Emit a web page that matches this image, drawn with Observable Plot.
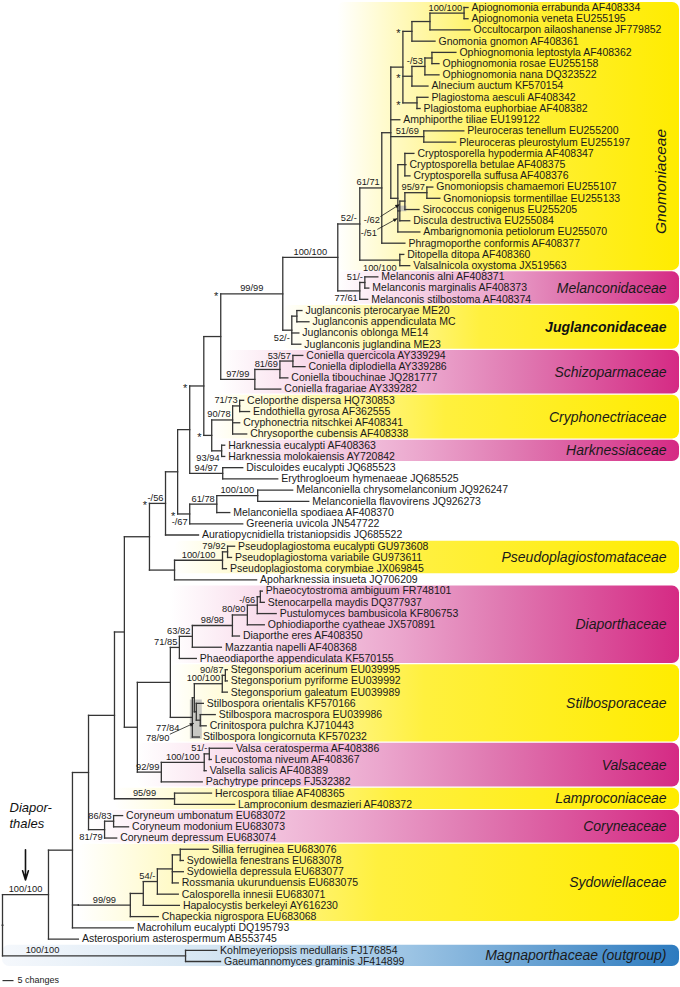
<!DOCTYPE html>
<html><head><meta charset="utf-8">
<script src="https://cdn.jsdelivr.net/npm/d3@7"></script>
<script src="https://cdn.jsdelivr.net/npm/@observablehq/plot@0.6"></script>
<style>
body{margin:0;background:#fff;}
#chart svg{display:block;}
</style></head><body><div id="chart"></div>
<script>
// ---------------- DATA ----------------
// Tree topology with branch lengths (changes); internal node ids carry the support labels
const newick = `(
 ((((((((((((((((((((((Apiognomonia_errabunda:1.8,Apiognomonia_veneta:1.8)Ap:15.5,Occultocarpon_ailaoshanense:18.2)Go:8.2,Gnomonia_gnomon:10.5)Gg:4.1,
 (((Ophiognomonia_leptostyla:10.9,Ophiognomonia_rosae:3.2)Olr:3.2,Ophiognomonia_nana:6.4)Oph:5.9,Alnecium_auctum:7.3)Goa:4.1,
 (Plagiostoma_aesculi:5.0,Plagiostoma_euphorbiae:1.4)Gp:6.4)G408:5.5,
 Amphiporthe_tiliae:4.1,
 (Pleuroceras_tenellum:18.2,Pleuroceras_pleurostylum:14.5)Pleur:15.0,
 ((Cryptosporella_hypodermia:4.1,Cryptosporella_betulae:0.5,Cryptosporella_suffusa:2.3)Crypto:3.2,
  (((Gnomoniopsis_chamaemori:2.7,Gnomoniopsis_tormentillae:5.9)Gn:10.0,Sirococcus_conigenus:6.4)Gs:2.3,Discula_destructiva:4.5)Gd:0.9,
  Ambarignomonia_petiolorum:10.0)CG:3.2)G396:4.1,
 Phragmoporthe_conformis:10.5)GA:10.0,
 (Ditopella_ditopa:1.8,Valsalnicola_oxystoma:4.5)DV:18.2)G0:10.0,
 ((Melanconis_alni:5.9,Melanconis_marginalis:1.8)Mel2:2.3,Melanconis_stilbostoma:3.6)Mel:10.0)N52:25.0,
 ((Juglanconis_pterocaryae:2.3,Juglanconis_appendiculata:5.5)Jp:2.3,Juglanconis_oblonga:3.2,Juglanconis_juglandina:4.1)J:4.1)N1:28.2,
 (((Coniella_quercicola:4.5,Coniella_diplodiella:5.5)C53:5.9,Coniella_tibouchinae:3.6)C81:11.4,Coniella_fragariae:11.8)C97:15.5)N2:7.7,
 (((Celoporthe_dispersa:1.8,Endothiella_gyrosa:4.5)CE:3.2,Cryphonectria_nitschkei:3.2,Chrysoporthe_cubensis:6.4)Cry:9.5,
  (Harknessia_eucalypti:1.4,Harknessia_molokaiensis:1.4)Hark:4.5)CH:3.6)P:6.4,
 (Disculoides_eucalypti:9.1,Erythrogloeum_hymenaeae:25.0)Dsc:15.0)Q:5.5,
 (((Melanconiella_chrysomelanconium:15.9,Melanconiella_flavovirens:23.2)M100:18.6,Melanconiella_spodiaea:5.9)M61:12.3,Greeneria_uvicola:24.1)MG:5.5)R:5.5,
 Auratiopycnidiella_tristaniopsidis:15.0)S:7.3,
 (((Pseudoplagiostoma_eucalypti:3.2,Pseudoplagiostoma_variabile:1.8)Ps2:2.3,Pseudoplagiostoma_corymbiae:1.8)Ps:21.8,Apoharknessia_insueta:37.3)U:11.4)T:11.4,
 ((((((((Phaeocytostroma_ambiguum:0.9,Stenocarpella_maydis:1.8)D5:1.4,Pustulomyces_bambusicola:8.6)D4:4.5,Ophiodiaporthe_cyatheae:7.7)D3:6.8,Diaporthe_eres:3.2)D2:18.2,Mazzantia_napelli:13.2)D1:5.9,Phaeodiaporthe_appendiculata:7.7)D0:4.1,
  ((((Stegonsporium_acerinum:0.9,Stegonsporium_pyriforme:0.9)Sap:1.4,Stegonsporium_galeatum:2.3)Steg:12.7,
    (Stilbospora_orientalis:3.2,(Stilbospora_macrospora:6.8,Crinitospora_pulchra:2.7)MC:1.8)SBb:0.9)SBa:0.9,
   Stilbospora_longicornuta:3.2)SB:10.0)X:15.0,
 (((Valsa_ceratosperma:10.5,Leucostoma_niveum:0.9)Va2:2.3,Valsella_salicis:0.9)Va1:19.5,Pachytrype_princeps:18.6)Vals:10.9)W:5.9)V:4.5,
 (Hercospora_tiliae:16.8,Lamproconium_desmazieri:27.3)Lamp:27.3)Y:11.8,
 ((Coryneum_umbonatum:4.1,Coryneum_modonium:6.8)Cu:4.1,Coryneum_depressum:5.5)Cor:7.3)Z:7.3,
 ((((((Sillia_ferruginea:12.7,Sydowiella_fenestrans:1.4)S180:3.6,Sydowiella_depressula:5.0,Rossmania_ukurunduensis:2.7)S172:6.8,Calosporella_innesii:9.5)S157:6.4,Hapalocystis_berkeleyi:16.4)S143:5.9,Chapeckia_nigrospora:12.7)Syd:23.6)C:2.7,
 Macrohilum_eucalypti:27.7)B:10.9,
 Asterosporium_asterospermum:13.6)IN:20.9,
 (Kohlmeyeriopsis_medullaris:14.1,Gaeumannomyces_graminis:15.9)OUT:83.2
)ROOT;`;

// Accession numbers / strain codes for each terminal
const taxa = [
["Apiognomonia_errabunda","AF408334"],["Apiognomonia_veneta","EU255195"],["Occultocarpon_ailaoshanense","JF779852"],
["Gnomonia_gnomon","AF408361"],["Ophiognomonia_leptostyla","AF408362"],["Ophiognomonia_rosae","EU255158"],
["Ophiognomonia_nana","DQ323522"],["Alnecium_auctum","KF570154"],["Plagiostoma_aesculi","AF408342"],
["Plagiostoma_euphorbiae","AF408382"],["Amphiporthe_tiliae","EU199122"],["Pleuroceras_tenellum","EU255200"],
["Pleuroceras_pleurostylum","EU255197"],["Cryptosporella_hypodermia","AF408347"],["Cryptosporella_betulae","AF408375"],
["Cryptosporella_suffusa","AF408376"],["Gnomoniopsis_chamaemori","EU255107"],["Gnomoniopsis_tormentillae","EU255133"],
["Sirococcus_conigenus","EU255205"],["Discula_destructiva","EU255084"],["Ambarignomonia_petiolorum","EU255070"],
["Phragmoporthe_conformis","AF408377"],["Ditopella_ditopa","AF408360"],["Valsalnicola_oxystoma","JX519563"],
["Melanconis_alni","AF408371"],["Melanconis_marginalis","AF408373"],["Melanconis_stilbostoma","AF408374"],
["Juglanconis_pterocaryae","ME20"],["Juglanconis_appendiculata","MC"],["Juglanconis_oblonga","ME14"],
["Juglanconis_juglandina","ME23"],["Coniella_quercicola","AY339294"],["Coniella_diplodiella","AY339286"],
["Coniella_tibouchinae","JQ281777"],["Coniella_fragariae","AY339282"],["Celoporthe_dispersa","HQ730853"],
["Endothiella_gyrosa","AF362555"],["Cryphonectria_nitschkei","AF408341"],["Chrysoporthe_cubensis","AF408338"],
["Harknessia_eucalypti","AF408363"],["Harknessia_molokaiensis","AY720842"],["Disculoides_eucalypti","JQ685523"],
["Erythrogloeum_hymenaeae","JQ685525"],["Melanconiella_chrysomelanconium","JQ926247"],["Melanconiella_flavovirens","JQ926273"],
["Melanconiella_spodiaea","AF408370"],["Greeneria_uvicola","JN547722"],["Auratiopycnidiella_tristaniopsidis","JQ685522"],
["Pseudoplagiostoma_eucalypti","GU973608"],["Pseudoplagiostoma_variabile","GU973611"],["Pseudoplagiostoma_corymbiae","JX069845"],
["Apoharknessia_insueta","JQ706209"],["Phaeocytostroma_ambiguum","FR748101"],["Stenocarpella_maydis","DQ377937"],
["Pustulomyces_bambusicola","KF806753"],["Ophiodiaporthe_cyatheae","JX570891"],["Diaporthe_eres","AF408350"],
["Mazzantia_napelli","AF408368"],["Phaeodiaporthe_appendiculata","KF570155"],["Stegonsporium_acerinum","EU039995"],
["Stegonsporium_pyriforme","EU039992"],["Stegonsporium_galeatum","EU039989"],["Stilbospora_orientalis","KF570166"],
["Stilbospora_macrospora","EU039986"],["Crinitospora_pulchra","KJ710443"],["Stilbospora_longicornuta","KF570232"],
["Valsa_ceratosperma","AF408386"],["Leucostoma_niveum","AF408367"],["Valsella_salicis","AF408389"],
["Pachytrype_princeps","FJ532382"],["Hercospora_tiliae","AF408365"],["Lamproconium_desmazieri","AF408372"],
["Coryneum_umbonatum","EU683072"],["Coryneum_modonium","EU683073"],["Coryneum_depressum","EU683074"],
["Sillia_ferruginea","EU683076"],["Sydowiella_fenestrans","EU683078"],["Sydowiella_depressula","EU683077"],
["Rossmania_ukurunduensis","EU683075"],["Calosporella_innesii","EU683071"],["Hapalocystis_berkeleyi","AY616230"],
["Chapeckia_nigrospora","EU683068"],["Macrohilum_eucalypti","DQ195793"],["Asterosporium_asterospermum","AB553745"],
["Kohlmeyeriopsis_medullaris","FJ176854"],["Gaeumannomyces_graminis","JF414899"]
];
const italicAccessions = ["EU255133"];

// Support values (ML / MP bootstrap) per internal node, and where they sit
const supports = [
["Ap","100/100","above"],["Oph","-/53","above"],["Pleur","51/69","above"],["Gn","95/97","above"],
["Gs","-/62","arrow"],["Gd","-/51","arrow"],["GA","61/71","above"],["G0","52/-","above"],
["DV","100/100","below"],["N52","100/100","above"],["Mel2","51/-","above"],["Mel","77/61","below"],
["N1","99/99","above"],["J","52/-","below"],["C53","53/57","above"],["C81","81/69","above"],
["C97","97/99","above"],["CE","71/73","above"],["Cry","90/78","above"],["Hark","93/94","below"],
["Dsc","94/97","above"],["M100","100/100","above"],["M61","61/78","above"],["MG","-/67","below"],
["S","-/56","above"],["Ps2","79/92","above"],["Ps","100/100","above"],["D4","-/66","above"],
["D3","80/90","above"],["D2","98/98","above"],["D1","63/82","above"],["D0","71/85","above"],
["Sap","90/87","above"],["Steg","100/100","above"],["SBb","77/84","arrow"],["SBa","78/90","arrow"],
["Va2","51/-","above"],["Va1","100/100","above"],["Vals","92/99","above"],["Lamp","95/99","above"],
["Cu","86/83","above"],["Cor","81/79","below"],["S157","54/-","above"],["Syd","99/99","above"],
["IN","100/100","above"],["OUT","100/100","above"]
];
// Nodes marked with an asterisk
const starNodes = ["Gg","Goa","Gp","N1","P","CH","S","MG"];

// Families: [label, first terminal, last terminal, colour group]
const families = [
["Gnomoniaceae","Apiognomonia_errabunda","Valsalnicola_oxystoma","yellow"],
["Melanconidaceae","Melanconis_alni","Melanconis_stilbostoma","magenta"],
["Juglanconidaceae","Juglanconis_pterocaryae","Juglanconis_juglandina","yellow"],
["Schizoparmaceae","Coniella_quercicola","Coniella_fragariae","magenta"],
["Cryphonectriaceae","Celoporthe_dispersa","Chrysoporthe_cubensis","yellow"],
["Harknessiaceae","Harknessia_eucalypti","Harknessia_molokaiensis","magenta"],
["Pseudoplagiostomataceae","Pseudoplagiostoma_eucalypti","Pseudoplagiostoma_corymbiae","yellow"],
["Diaporthaceae","Phaeocytostroma_ambiguum","Phaeodiaporthe_appendiculata","magenta"],
["Stilbosporaceae","Stegonsporium_acerinum","Stilbospora_longicornuta","yellow"],
["Valsaceae","Valsa_ceratosperma","Pachytrype_princeps","magenta"],
["Lamproconiaceae","Hercospora_tiliae","Lamproconium_desmazieri","yellow"],
["Coryneaceae","Coryneum_umbonatum","Coryneum_depressum","magenta"],
["Sydowiellaceae","Sillia_ferruginea","Chapeckia_nigrospora","yellow"],
["Magnaporthaceae (outgroup)","Kohlmeyeriopsis_medullaris","Gaeumannomyces_graminis","blue"]
];
const boldFamily = "Juglanconidaceae";
const verticalFamily = "Gnomoniaceae";
const verticalFamilySpan = ["Pleuroceras_tenellum","Ambarignomonia_petiolorum"];
// grey boxes marking very short internodes: [nodes spanned, first terminal, last terminal]
const shortInternodes = [
  [["Gd","Gs"],"Sirococcus_conigenus","Sirococcus_conigenus"],
  [["SB","MC"],"Stilbospora_orientalis","Stilbospora_longicornuta"]
];
const orderLabel = ["Diapor-","thales"];
const scaleBar = {changes:5, label:"5 changes"};

// ---------------- STYLE / LAYOUT ----------------
const W = 680, H = 987;
const FONT = "'Liberation Sans', Arial, Helvetica, sans-serif";
const LEAF_SIZE = 10.5, SUP_SIZE = 9.3, FAM_SIZE = 14;
const LINE = "#353535", TXT = "#1a1a1a";
const gradients = {
  yellow: [[0,"#ffffff"],[0.25,"#fff7a6"],[0.5,"#fff03e"],[1,"#ffec00"]],
  magenta:[[0,"#ffffff"],[0.15,"#fae2ef"],[0.45,"#eba6cd"],[0.65,"#e07ab2"],[1,"#d52a84"]],
  blue:   [[0,"#f5f8fc"],[0.3,"#d6e6f3"],[0.6,"#9cc4e4"],[1,"#2d7bbf"]]
};
// pixel offsets for the arrowed support labels: [label dx, label dy, tip dx, tip dy]
const arrowNudge = { Gs:[-25,19,-5,4], Gd:[-23,22,-2,8], SBb:[-17,16,null,null], SBa:[-25,40,0,26] };

// ---------------- TREE ----------------
function parseNewick(str){
  const s = str.replace(/\s+/g,""); let i = 0;
  function node(){
    const n = {children:[]};
    if (s[i] === "("){ i++; n.children.push(node()); while (s[i] === ","){ i++; n.children.push(node()); } i++; }
    let name = ""; while (i < s.length && !",():;".includes(s[i])) name += s[i++];
    n.name = name;
    if (s[i] === ":"){ i++; let num = ""; while (i < s.length && !",();".includes(s[i])) num += s[i++]; n.length = +num; }
    return n;
  }
  return node();
}
const root = parseNewick(newick);
const nodes = []; let leafCount = 0;
(function walk(n, depth, parent){
  n.depth = depth; n.parent = parent; nodes.push(n);
  if (n.children.length){
    n.children.forEach(c => walk(c, depth + (c.length || 0), n));
    n.y = (n.children[0].y + n.children[n.children.length - 1].y) / 2;
  } else n.y = leafCount++;
})(root, 0, null);
const byName = new Map(nodes.map(n => [n.name, n]));
const accession = new Map(taxa);
const maxRow = leafCount - 1;

const xOpts = {domain:[0, (679 - 2) / 2.2], range:[2, 679], axis:null};
const yOpts = {domain:[0, maxRow], range:[7, 961], axis:null};
const xs = Plot.scale({x:{type:"linear", domain:xOpts.domain, range:xOpts.range}});
const ys = Plot.scale({y:{type:"linear", domain:yOpts.domain, range:yOpts.range}});
const XMAX = xOpts.domain[1];

const hEdges = nodes.filter(n => n.parent).map(n => ({x1:n.parent.depth, x2:n.depth, y:n.y}));
const vEdges = nodes.filter(n => n.children.length).map(n => ({x:n.depth, y1:n.children[0].y, y2:n.children[n.children.length - 1].y}));
const leaves = nodes.filter(n => !n.children.length).map(n => ({x:n.depth, y:n.y, label:n.name.replace(/_/g, " ") + " " + accession.get(n.name)}));

const ctx = document.createElement("canvas").getContext("2d");
function textW(t, size){ ctx.font = `${size}px ${FONT}`; return ctx.measureText(t).width; }

const supAbove = [], supBelow = [], supArrow = [], arrowLines = [];
for (const [id, text, place] of supports){
  const n = byName.get(id); if (!n) continue;
  if (place === "arrow"){
    const [dx, dy, ax, ay] = arrowNudge[id];
    supArrow.push({x:n.depth, y:n.y, text, dx, dy});
    if (ax !== null) arrowLines.push({n, dx, dy, ax, ay});
    continue;
  }
  const w = textW(text, SUP_SIZE);
  const px = xs.apply(n.depth), ppx = xs.apply(n.parent.depth);
  let c = Math.min((px + ppx) / 2, ppx + 40);
  c = Math.min(c, px - 2 - w / 2);
  (place === "above" ? supAbove : supBelow).push({x:xs.invert(c), y:n.y, text});
}
const stars = starNodes.map(id => byName.get(id)).map(n => ({x:n.parent.depth, y:n.y}));

function mrca(a, b){
  const anc = new Set(); for (let n = byName.get(a); n; n = n.parent) anc.add(n);
  for (let n = byName.get(b); n; n = n.parent) if (anc.has(n)) return n;
}
const bands = families.map(([name, a, b, col]) => {
  const m = mrca(a, b);
  const ya = byName.get(a).y, yb = byName.get(b).y;
  return {name, col, x1:(m.parent || m).depth, x2:XMAX, y1:ya - 0.5, y2:yb + 0.5, yc:(ya + yb) / 2};
});
const grayBoxes = shortInternodes.map(([ids, a, b]) => {
  const ds = ids.map(k => byName.get(k).depth);
  return {x1:Math.min(...ds), x2:Math.max(...ds), y1:byName.get(a).y - 0.3, y2:byName.get(b).y + 0.2};
});
const vSpan = verticalFamilySpan.map(k => byName.get(k).y);
const IN = byName.get("IN");

const bandMark = col => Plot.rect(bands.filter(d => d.col === col), {
  x1:"x1", x2:"x2", y1:"y1", y2:"y2", fill:`url(#grad-${col})`, rx:7, insetTop:0.6, insetBottom:0.6
});

const svg = Plot.plot({
  width:W, height:H, margin:0,
  x:xOpts, y:yOpts,
  style:{fontFamily:FONT, background:"#ffffff", overflow:"visible"},
  marks:[
    bandMark("yellow"), bandMark("magenta"), bandMark("blue"),
    Plot.rect(grayBoxes, {x1:"x1", x2:"x2", y1:"y1", y2:"y2", fill:"#b5b5b5", fillOpacity:0.75, insetLeft:-2, insetRight:-2}),
    Plot.link(hEdges, {x1:"x1", x2:"x2", y1:"y", y2:"y", stroke:LINE, strokeWidth:1.3, strokeLinecap:"square"}),
    Plot.link(vEdges, {x1:"x", x2:"x", y1:"y1", y2:"y2", stroke:LINE, strokeWidth:1.3, strokeLinecap:"square"}),
    Plot.text(leaves, {x:"x", y:"y", text:"label", dx:3.5, textAnchor:"start", fontSize:LEAF_SIZE, fill:TXT, ariaLabel:"leaf-labels"}),
    Plot.text(supAbove, {x:"x", y:"y", text:"text", dy:-5.5, textAnchor:"middle", fontSize:SUP_SIZE, fill:TXT}),
    Plot.text(supBelow, {x:"x", y:"y", text:"text", dy:7.6, textAnchor:"middle", fontSize:SUP_SIZE, fill:TXT}),
    ...supArrow.map(d => Plot.text([d], {x:"x", y:"y", text:"text", dx:d.dx, dy:d.dy, textAnchor:"end", fontSize:SUP_SIZE, fill:TXT})),
    Plot.text(stars, {x:"x", y:"y", text:() => "*", dx:-4.5, dy:2.2, textAnchor:"middle", fontSize:11, fill:TXT}),
    Plot.text(bands.filter(d => d.name !== verticalFamily && d.name !== boldFamily), {x:"x2", y:"yc", text:"name", dx:-13, textAnchor:"end", fontSize:FAM_SIZE, fontStyle:"italic", fill:TXT, ariaLabel:"family-labels"}),
    Plot.text(bands.filter(d => d.name === boldFamily), {x:"x2", y:"yc", text:"name", dx:-13, textAnchor:"end", fontSize:FAM_SIZE, fontStyle:"italic", fontWeight:"bold", fill:"#111"}),
    Plot.text(bands.filter(d => d.name === verticalFamily), {x:"x2", y:() => (vSpan[0] + vSpan[1]) / 2, text:"name", dx:-18, rotate:-90, textAnchor:"middle", fontSize:15.5, fontStyle:"italic", fill:TXT}),
    Plot.text([IN], {x:() => 0, y:"y", text:() => orderLabel.join("\n"), dx:7, dy:-80, lineHeight:1.3, textAnchor:"start", fontSize:13, fontStyle:"italic", fill:"#111"}),
    Plot.arrow([IN], {x1:d => d.depth / 2, x2:d => d.depth / 2, y1:d => d.y - 4, y2:d => d.y - 1.3, stroke:"#111", strokeWidth:1.6, headLength:9, headAngle:35}),
    Plot.link([{y:maxRow + 1.7}], {x1:() => 0, x2:() => scaleBar.changes, y1:"y", y2:"y", stroke:LINE, strokeWidth:1.2}),
    Plot.text([{y:maxRow + 1.7}], {x:() => scaleBar.changes, y:"y", text:() => scaleBar.label, dx:4, textAnchor:"start", fontSize:9, fill:TXT})
  ]
});

// gradients
const defs = d3.select(svg).insert("defs", ":first-child");
for (const [k, stops] of Object.entries(gradients)){
  const g = defs.append("linearGradient").attr("id", `grad-${k}`).attr("x1", "0").attr("x2", "1").attr("y1", "0").attr("y2", "0");
  stops.forEach(([o, c]) => g.append("stop").attr("offset", o).attr("stop-color", c));
}
// italic taxon names, upright accessions
const italAcc = new Set(italicAccessions);
d3.select(svg).selectAll('g[aria-label="leaf-labels"] text').each(function(){
  const t = this.textContent, k = t.lastIndexOf(" ");
  const name = t.slice(0, k), acc = t.slice(k + 1);
  this.textContent = "";
  d3.select(this).append("tspan").attr("font-style", "italic").text(name + " ");
  d3.select(this).append("tspan").attr("font-style", italAcc.has(acc) ? "italic" : "normal").text(acc);
});
d3.select(svg).selectAll('g[aria-label="family-labels"] text').each(function(){
  const t = this.textContent, k = t.indexOf(" (");
  if (k < 0) return;
  this.textContent = "";
  d3.select(this).append("tspan").attr("font-style", "italic").text(t.slice(0, k) + " ");
  d3.select(this).append("tspan").attr("font-style", "normal").text(t.slice(k + 1));
});
// leader arrows of the arrowed support labels, positioned from the node scales
const ag = d3.select(svg).append("g").attr("stroke", TXT).attr("fill", TXT);
for (const d of arrowLines){
  const px = xs.apply(d.n.depth), py = ys.apply(d.n.y);
  const sx = px + d.dx + 1, sy = py + d.dy - 3, tx = px + d.ax, ty = py + d.ay;
  ag.append("line").attr("x1", sx).attr("y1", sy).attr("x2", tx).attr("y2", ty).attr("stroke-width", 0.8);
  const ang = Math.atan2(ty - sy, tx - sx), L = 4.5, a = 0.45;
  ag.append("path").attr("stroke", "none").attr("d", `M${tx},${ty}L${tx - L * Math.cos(ang - a)},${ty - L * Math.sin(ang - a)}L${tx - L * Math.cos(ang + a)},${ty - L * Math.sin(ang + a)}Z`);
}
document.getElementById("chart").appendChild(svg);
</script>
</body></html>
